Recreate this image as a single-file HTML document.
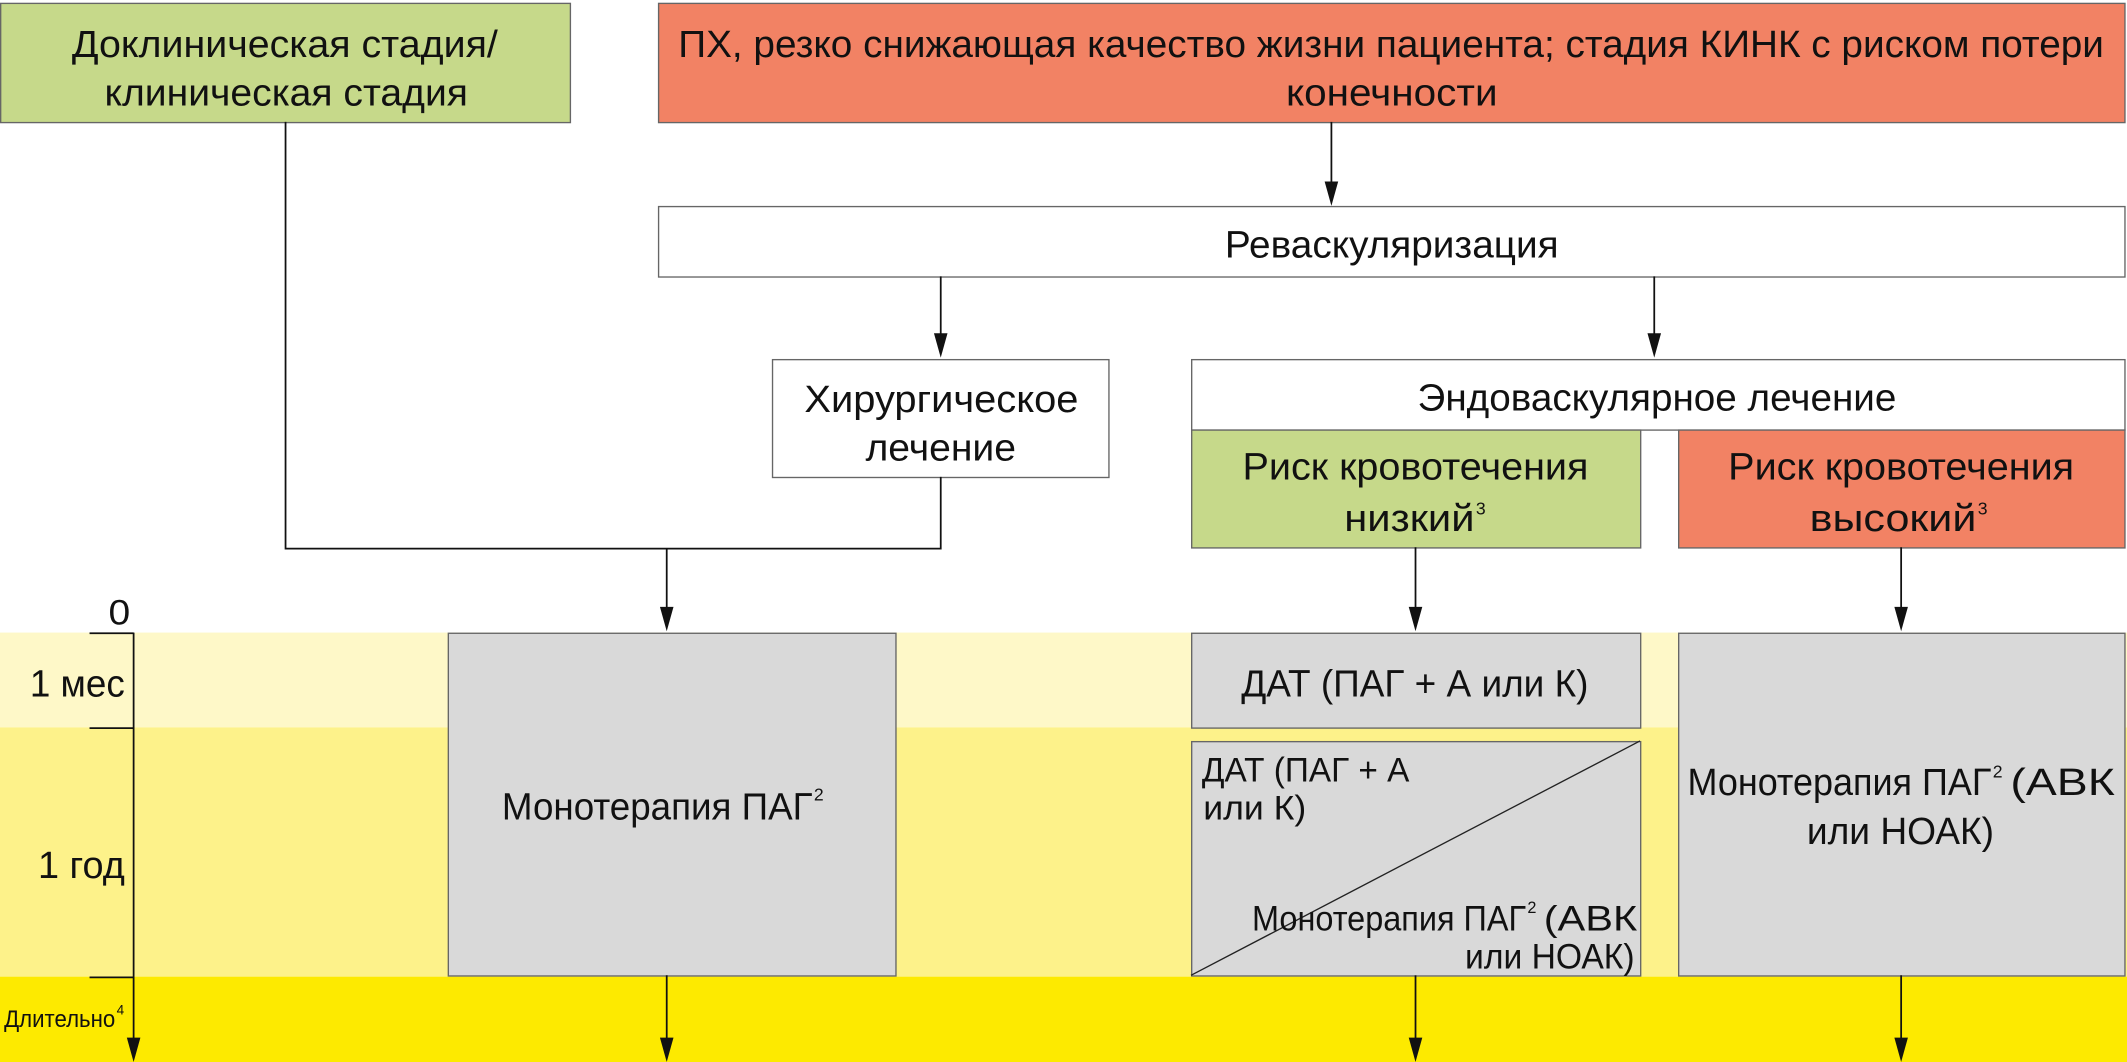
<!DOCTYPE html>
<html><head><meta charset="utf-8"><style>
html,body{margin:0;padding:0;background:#fff;}
svg{display:block;}
text{font-family:"Liberation Sans Narrow","Liberation Sans","DejaVu Sans",sans-serif;fill:#111;}
</style></head><body>
<svg width="2127" height="1062" viewBox="0 0 1568 784" preserveAspectRatio="none" xmlns="http://www.w3.org/2000/svg">
<rect x="0" y="467" width="1568" height="70" fill="#fef8c8"/>
<rect x="0" y="537" width="1568" height="184" fill="#fdf28a"/>
<rect x="0" y="721" width="1568" height="63" fill="#fdea00"/>

<g stroke="#666" stroke-width="1">
<rect x="0.5" y="2.5" width="420" height="88" fill="#c6d98a"/>
<rect x="485.5" y="2.5" width="1081" height="88" fill="#f28264"/>
<rect x="485.5" y="152.5" width="1081" height="52" fill="#fff"/>
<rect x="569.5" y="265.5" width="248" height="87" fill="#fff"/>
<rect x="878.5" y="265.5" width="688" height="52" fill="#fff"/>
<rect x="878.5" y="317.5" width="331" height="87" fill="#c6d98a"/>
<rect x="1237.5" y="317.5" width="329" height="87" fill="#f28264"/>
<rect x="330.5" y="467.5" width="330" height="253" fill="#d9d9d9"/>
<rect x="878.5" y="467.5" width="331" height="70" fill="#d9d9d9"/>
<rect x="878.5" y="547.5" width="331" height="173" fill="#d9d9d9"/>
<rect x="1237.5" y="467.5" width="329" height="253" fill="#d9d9d9"/>
</g>
<line x1="878" y1="720" x2="1209" y2="547" stroke="#222" stroke-width="1"/>

<g stroke="#111" stroke-width="1.3" fill="none">
<polyline points="210.5,90 210.5,405 693.5,405 693.5,352"/>
<line x1="981.5" y1="90" x2="981.5" y2="140"/>
<line x1="693.5" y1="204" x2="693.5" y2="252"/>
<line x1="1219.5" y1="204" x2="1219.5" y2="252"/>
<line x1="491.5" y1="405" x2="491.5" y2="454"/>
<line x1="1043.5" y1="404" x2="1043.5" y2="454"/>
<line x1="1401.5" y1="404" x2="1401.5" y2="454"/>
<line x1="491.5" y1="720" x2="491.5" y2="772"/>
<line x1="1043.5" y1="720" x2="1043.5" y2="772"/>
<line x1="1401.5" y1="720" x2="1401.5" y2="772"/>
<line x1="98.5" y1="467" x2="98.5" y2="772"/>
<line x1="66" y1="467.5" x2="98.5" y2="467.5"/>
<line x1="66" y1="537.5" x2="98.5" y2="537.5"/>
<line x1="66" y1="721.5" x2="98.5" y2="721.5"/>
</g>
<g fill="#111">
<polygon points="976.5,134 986.5,134 981.5,152"/>
<polygon points="688.5,246 698.5,246 693.5,264"/>
<polygon points="1214.5,246 1224.5,246 1219.5,264"/>
<polygon points="486.5,448 496.5,448 491.5,466"/>
<polygon points="1038.5,448 1048.5,448 1043.5,466"/>
<polygon points="1396.5,448 1406.5,448 1401.5,466"/>
<polygon points="486.5,766 496.5,766 491.5,784"/>
<polygon points="1038.5,766 1048.5,766 1043.5,784"/>
<polygon points="1396.5,766 1406.5,766 1401.5,784"/>
<polygon points="93.5,766 103.5,766 98.5,784"/>
</g>

<g font-size="28">
<text x="53" y="42" textLength="314" lengthAdjust="spacingAndGlyphs">Доклиническая стадия/</text>
<text x="77" y="78" textLength="268" lengthAdjust="spacingAndGlyphs">клиническая стадия</text>
<text x="500" y="42" textLength="1051" lengthAdjust="spacingAndGlyphs">ПХ, резко снижающая качество жизни пациента; стадия КИНК с риском потери</text>
<text x="948" y="78" textLength="156" lengthAdjust="spacingAndGlyphs">конечности</text>
<text x="903" y="190" textLength="246" lengthAdjust="spacingAndGlyphs">Реваскуляризация</text>
<text x="593" y="304" textLength="202" lengthAdjust="spacingAndGlyphs">Хирургическое</text>
<text x="638" y="340" textLength="111" lengthAdjust="spacingAndGlyphs">лечение</text>
<text x="1045" y="303" textLength="353" lengthAdjust="spacingAndGlyphs">Эндоваскулярное лечение</text>
<text x="916" y="354" textLength="255" lengthAdjust="spacingAndGlyphs">Риск кровотечения</text>
<text x="991" y="392" textLength="96" lengthAdjust="spacingAndGlyphs">низкий</text>
<text x="1088" y="380" font-size="13">3</text>
<text x="1274" y="354" textLength="255" lengthAdjust="spacingAndGlyphs">Риск кровотечения</text>
<text x="1334" y="392" textLength="123" lengthAdjust="spacingAndGlyphs">высокий</text>
<text x="1458" y="380" font-size="13">3</text>
<text x="370" y="605" textLength="229" lengthAdjust="spacingAndGlyphs">Монотерапия ПАГ</text>
<text x="600" y="591" font-size="13">2</text>
<text x="915" y="514" textLength="256" lengthAdjust="spacingAndGlyphs">ДАТ (ПАГ + А или К)</text>
<text x="886" y="577" font-size="25" textLength="153" lengthAdjust="spacingAndGlyphs">ДАТ (ПАГ + А</text>
<text x="887" y="605" font-size="25" textLength="76" lengthAdjust="spacingAndGlyphs">или К)</text>
<text x="923" y="687" font-size="26" textLength="202" lengthAdjust="spacingAndGlyphs">Монотерапия ПАГ</text>
<text x="1126" y="674" font-size="12">2</text>
<text x="1138" y="687" font-size="26" textLength="69" lengthAdjust="spacingAndGlyphs">(АВК</text>
<text x="1080" y="715" font-size="26" textLength="125" lengthAdjust="spacingAndGlyphs">или НОАК)</text>
<text x="1244" y="587" textLength="224" lengthAdjust="spacingAndGlyphs">Монотерапия ПАГ</text>
<text x="1469" y="574" font-size="13">2</text>
<text x="1482" y="587" textLength="77" lengthAdjust="spacingAndGlyphs">(АВК</text>
<text x="1332" y="623" textLength="138" lengthAdjust="spacingAndGlyphs">или НОАК)</text>
<text x="80" y="461" font-size="26" textLength="16" lengthAdjust="spacingAndGlyphs">0</text>
<text x="22" y="514" textLength="70" lengthAdjust="spacingAndGlyphs">1 мес</text>
<text x="28" y="648" textLength="64" lengthAdjust="spacingAndGlyphs">1 год</text>
<text x="3" y="758" font-size="18" textLength="82" lengthAdjust="spacingAndGlyphs">Длительно</text>
<text x="86" y="749" font-size="10">4</text>
</g>
</svg>
</body></html>
